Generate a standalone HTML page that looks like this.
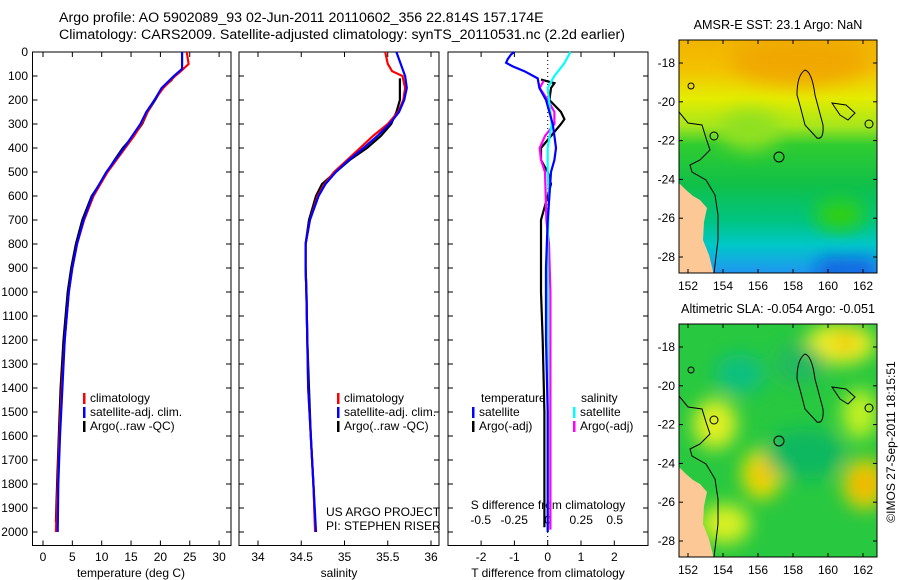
<!DOCTYPE html>
<html><head><meta charset="utf-8"><style>
html,body{margin:0;padding:0;background:#fff;width:900px;height:580px;overflow:hidden}
svg text{font-family:"Liberation Sans",sans-serif;font-size:12px;fill:#000}
</style></head><body>
<svg id="chart" width="900" height="580" viewBox="0 0 900 580" xmlns="http://www.w3.org/2000/svg">
<defs>
<filter id="blur" x="-20%" y="-20%" width="140%" height="140%"><feGaussianBlur stdDeviation="9"/></filter>
<linearGradient id="sstg" x1="0" y1="0" x2="0" y2="1">
<stop offset="0" stop-color="#f0b400"/><stop offset="0.12" stop-color="#f4c000"/><stop offset="0.25" stop-color="#e4ec00"/><stop offset="0.37" stop-color="#a6e61c"/><stop offset="0.45" stop-color="#30cc30"/><stop offset="0.62" stop-color="#10c048"/><stop offset="0.78" stop-color="#00c484"/><stop offset="0.88" stop-color="#00c8c8"/><stop offset="1" stop-color="#2096f0"/>
</linearGradient>
<clipPath id="c1"><rect x="679" y="40" width="198" height="233"/></clipPath>
<clipPath id="c2"><rect x="679" y="324" width="198" height="233"/></clipPath>
</defs>
<text x="59" y="22" style="font-size:14.2px">Argo profile: AO 5902089_93 02-Jun-2011 20110602_356 22.814S 157.174E</text>
<text x="59" y="39" style="font-size:14.2px">Climatology: CARS2009. Satellite-adjusted climatology: synTS_20110531.nc (2.2d earlier)</text>
<g id="g"></g>
</svg>
<script>
// ---------- data ----------
const depthTicks=[0,100,200,300,400,500,600,700,800,900,1000,1100,1200,1300,1400,1500,1600,1700,1800,1900,2000];
const tempTicks=[0,5,10,15,20,25,30];
const salTicks=[34,34.5,35,35.5,36];
const tdiffTicks=[-2,-1,0,1,2];
const sdiffTicks=[-0.5,-0.25,0,0.25,0.5];
const tClimDepth=[0,50,80,100,150,200,250,300,350,400,450,500,550,600,700,800,900,1000,1200,1400,1600,1800,2000];
const tClimVal=[24.5,24.8,23.5,22.5,20.5,19,17.8,16.8,15.5,14,12.5,11,9.8,8.6,7,5.8,5,4.4,3.7,3.2,2.8,2.5,2.2];
const tSatDepth=[0,70,100,150,200,250,300,350,400,450,500,550,600,700,800,900,1000,1200,1400,1600,1800,2000];
const tSatVal=[23.7,23.7,22.3,20.2,19,17.6,16.6,15.2,13.8,12.3,10.8,9.6,8.4,6.9,5.8,5,4.4,3.7,3.3,2.9,2.6,2.5];
const tArgoDepth=[115,150,200,250,300,350,400,450,500,550,600,700,800,900,1000,1200,1400,1600,1800,1960];
const tArgoVal=[22,20.3,19.1,17.8,16.9,15.4,13.6,12.2,10.9,9.7,8.3,6.7,5.6,4.8,4.2,3.5,3.0,2.7,2.4,2.2];
const sClimDepth=[0,50,80,100,150,200,250,300,350,400,450,500,550,600,700,800,900,1000,1200,1400,1600,1800,2000];
const sClimVal=[35.47,35.5,35.55,35.67,35.7,35.68,35.62,35.5,35.33,35.18,35.03,34.88,34.77,34.69,34.6,34.55,34.55,34.56,34.57,34.58,34.61,34.64,34.66];
const sSatDepth=[0,100,150,200,250,300,350,400,450,500,550,600,700,800,900,1000,1200,1400,1600,1800,2000];
const sSatVal=[35.6,35.7,35.72,35.69,35.63,35.52,35.38,35.22,35.05,34.9,34.78,34.7,34.6,34.55,34.55,34.56,34.57,34.58,34.61,34.64,34.67];
const sArgoDepth=[110,150,200,250,300,350,400,450,500,550,600,700,800,900,1000,1200,1400,1600,1800,1960];
const sArgoVal=[35.64,35.64,35.64,35.6,35.54,35.42,35.26,35.06,34.9,34.74,34.67,34.59,34.55,34.55,34.56,34.57,34.59,34.61,34.64,34.66];
const dtSatDepth=[0,10,30,45,60,80,110,150,200,250,300,350,400,450,500,600,700,900,1200,1500,1800,2000];
const dtSatVal=[-1.0,-1.1,-1.2,-1.25,-1.05,-0.7,-0.3,-0.25,-0.05,0.05,0.15,0.2,0.25,0.2,0.1,0.05,0.0,-0.05,-0.05,0.0,0.0,0.0];
const dtArgoDepth=[115,130,150,200,250,280,300,350,400,450,500,550,600,700,800,1000,1200,1500,1980];
const dtArgoVal=[-0.2,0.2,0.1,0.05,0.4,0.5,0.4,0.1,-0.2,-0.2,0.0,0.1,0.0,-0.2,-0.2,-0.2,-0.15,-0.1,-0.1];
const dsSatDepth=[0,50,100,150,200,300,400,500,600,800,1000,2000];
const dsSatVal=[0.17,0.12,0.05,0.0,0.01,0.03,0.0,0.0,0.01,0.0,0.0,0.0];
const dsArgoDepth=[120,150,200,250,300,350,400,450,500,700,800,1000,1990];
const dsArgoVal=[-0.03,-0.06,0.0,0.05,0.05,-0.02,-0.06,-0.05,-0.02,-0.01,0.01,0.02,0.02];

// ---------- helpers ----------
const NS="http://www.w3.org/2000/svg";
const G=document.getElementById('g');
function mk(tag,attrs,parent){const e=document.createElementNS(NS,tag);for(const k in attrs)e.setAttribute(k,attrs[k]);(parent||G).appendChild(e);return e;}
const yD=d=>52+d*0.24;
const xT=t=>43+t*5.87;
const xS=s=>258+(s-34)*86.5;
const xDT=v=>547.7+v*33.3;
const xDS=v=>547.7+v*134;
const panels=[[32.5,231],[239,439],[448,648]];

panels.forEach((p,i)=>{
  const r=mk('rect',{x:p[0],y:52,width:p[1]-p[0],height:493.5,fill:'none',stroke:'#000','stroke-width':1});
  
  
  depthTicks.forEach(d=>{
    const t1=mk('line',{x1:p[0],x2:p[0]+5,y1:yD(d),y2:yD(d),stroke:'#000'});
    
    
    const t2=mk('line',{x1:p[1]-5,x2:p[1],y1:yD(d),y2:yD(d),stroke:'#000'});
    
    
  });
});
depthTicks.forEach(d=>{
  const t=mk('text',{x:28,y:yD(d)+4,'text-anchor':'end'});t.textContent=d;
  
  
});
function xticks(arr,fx,lab,p,ly){
  arr.forEach(v=>{
    const x=fx(v);
    const a=mk('line',{x1:x,x2:x,y1:52,y2:57,stroke:'#000'});
    
    
    const b=mk('line',{x1:x,x2:x,y1:540.5,y2:545.5,stroke:'#000'});
    
    
    if(lab){const t=mk('text',{x:x,y:ly||561,'text-anchor':'middle'});t.textContent=(v<0?'-':'')+Math.abs(v);
    
    }
  });
}
xticks(tempTicks,xT,true);
xticks(salTicks,xS,true);
xticks(tdiffTicks,xDT,true);
sdiffTicks.forEach(v=>{const t=mk('text',{x:xDS(v),y:524,'text-anchor':'middle'});t.textContent=(v<0?'-':'')+Math.abs(v);
  
  });
function label(x,y,s,name,anchor){const t=mk('text',{x:x,y:y,'text-anchor':anchor||'middle'});t.textContent=s;
  
  return t;}
label(131,577,'temperature (deg C)','x-axis-title-temperature');
label(339,577,'salinity','x-axis-title-salinity');
label(548,577,'T difference from climatology','x-axis-title-t-diff');
label(548,509,'S difference from climatology','s-diff-axis-title');
label(326,516,'US ARGO PROJECT','project-credit','start');
label(326,530,'PI: STEPHEN RISER','pi-credit','start');

const zl=mk('line',{x1:547.7,x2:547.7,y1:52,y2:545,stroke:'#000','stroke-dasharray':'1,3'});



function series(ds,vs,fx,color,name){
  const pts=ds.map((d,i)=>fx(vs[i]).toFixed(1)+','+yD(d).toFixed(1)).join(' ');
  const e=mk('polyline',{points:pts,fill:'none',stroke:color,'stroke-width':2.2});
  
  
}
series(tArgoDepth,tArgoVal,xT,'#000','temp-argo-line');
series(tClimDepth,tClimVal,xT,'#f00','temp-climatology-line');
series(tSatDepth,tSatVal,xT,'#00f','temp-satellite-line');
series(sArgoDepth,sArgoVal,xS,'#000','sal-argo-line');
series(sClimDepth,sClimVal,xS,'#f00','sal-climatology-line');
series(sSatDepth,sSatVal,xS,'#00f','sal-satellite-line');
series(dtArgoDepth,dtArgoVal,xDT,'#000','tdiff-argo-line');
series(dsArgoDepth,dsArgoVal,xDS,'#f0f','sdiff-argo-line');
series(dsSatDepth,dsSatVal,xDS,'#0ff','sdiff-satellite-line');
series(dtSatDepth,dtSatVal,xDT,'#00f','tdiff-satellite-line');

function legend(x,y,items,name){
  items.forEach((it,i)=>{
    const yy=y+i*14;
    const m=mk('rect',{x:x,y:yy-9,width:2.5,height:11,fill:it[1]});
    
    
    label(x+7,yy,it[0],name+'-entry','start');
  });
}
legend(83,402,[['climatology','#f00'],['satellite-adj. clim.','#00f'],['Argo(..raw -QC)','#000']],'legend-temp');
legend(337,402,[['climatology','#f00'],['satellite-adj. clim.','#00f'],['Argo(..raw -QC)','#000']],'legend-sal');
label(481,402,'temperature','legend-tdiff-title','start');
label(581,402,'salinity','legend-sdiff-title','start');
legend(472,416,[['satellite','#00f'],['Argo(-adj)','#000']],'legend-tdiff');
legend(573,416,[['satellite','#0ff'],['Argo(-adj)','#f0f']],'legend-sdiff');

// ---------- maps ----------
const lonTicks=[152,154,156,158,160,162];
const latTicks=[18,20,22,24,26,28];
const xLon=l=>688+(l-152)*17.5;
function map(y0,clip,bgFill,blobs,title,name){
  const g=mk('g',{'clip-path':'url(#'+clip+')'});
  
  
  mk('rect',{x:679,y:y0,width:198,height:233,fill:bgFill},g);
  const bg=mk('g',{filter:'url(#blur)'},g);
  blobs.forEach(b=>mk('ellipse',{cx:b[0],cy:y0+b[1],rx:b[2],ry:b[3],fill:b[4]},bg));
  const off=y0-40;
  mk('polygon',{points:[[676,180],[686,190],[693,196],[700,200],[707,208],[704,222],[703,240],[709,255],[714,275],[676,275]].map(p=>p[0]+','+(p[1]+off)).join(' '),fill:'#fcc896'},g);
  mk('path',{d:`M679 ${112+off} L688 ${123+off} L702 ${125+off} L706 ${138+off} L710 ${150+off} L700 ${160+off} L690 ${165+off} L692 ${172+off} L706 ${180+off} L715 ${195+off} L718 ${215+off} L718 ${240+off} L714 ${273+off}`,fill:'none',stroke:'#000','stroke-width':1},g);
  mk('path',{d:`M805 ${70+off} Q812 ${72+off} 815 ${95+off} L823 ${125+off} Q824 ${140+off} 817 ${138+off} L805 ${125+off} Q800 ${105+off} 797 ${95+off} Q797 ${75+off} 805 ${70+off}Z`,fill:'none',stroke:'#000'},g);
  mk('path',{d:`M832 ${103+off} L846 ${105+off} L855 ${113+off} L848 ${120+off} L840 ${115+off}Z`,fill:'none',stroke:'#000'},g);
  mk('circle',{cx:869,cy:124+off,r:4,fill:'none',stroke:'#000'},g);
  mk('circle',{cx:714,cy:136+off,r:4,fill:'none',stroke:'#000'},g);
  mk('circle',{cx:691,cy:86+off,r:3,fill:'none',stroke:'#000'},g);
  const c=mk('circle',{cx:779,cy:157+off,r:5,fill:'none',stroke:'#000'});
  
  
  const f=mk('rect',{x:679,y:y0,width:198,height:233,fill:'none',stroke:'#000'});
  
  
  lonTicks.forEach(l=>{const x=xLon(l);
    mk('line',{x1:x,x2:x,y1:y0,y2:y0+4,stroke:'#000'});mk('line',{x1:x,x2:x,y1:y0+229,y2:y0+233,stroke:'#000'});
    label(x,y0+250,String(l),name+'-lon-label');});
  latTicks.forEach(l=>{const y=y0+23+(l-18)*19.4;
    mk('line',{x1:679,x2:683,y1:y,y2:y,stroke:'#000'});mk('line',{x1:873,x2:877,y1:y,y2:y,stroke:'#000'});
    label(675,y+4,'-'+l,name+'-lat-label','end');});
  const t=label(778,y0-11,title,name+'-title');
  t.setAttribute('style','font-size:12.6px');
}
map(40,'c1','url(#sstg)',[[800,20,70,25,'#f0a800'],[835,230,20,12,'#1060e0'],[862,230,15,12,'#1060e0'],[750,90,30,20,'#90e020'],[840,175,25,15,'#30d010']],'AMSR-E SST: 23.1  Argo: NaN','sst-map');
map(324,'c2','#28c840',[[840,20,35,20,'#f0f020'],[845,18,10,8,'#f0b000'],[865,160,22,25,'#f0d000'],[865,160,10,10,'#f0a000'],[762,150,20,25,'#f0e000'],[762,150,8,10,'#f0b000'],[715,100,22,25,'#e0f020'],[860,90,18,25,'#c0f020'],[740,50,25,20,'#10c080'],[805,130,40,25,'#10b860'],[725,200,25,20,'#d8f020'],[800,40,25,20,'#20b860']],'Altimetric SLA: -0.054  Argo: -0.051','sla-map');
const cp=mk('text',{x:0,y:0,'text-anchor':'middle',transform:'translate(895,442) rotate(-90)'});
cp.textContent='©IMOS 27-Sep-2011 18:15:51';


</script>
</body></html>
